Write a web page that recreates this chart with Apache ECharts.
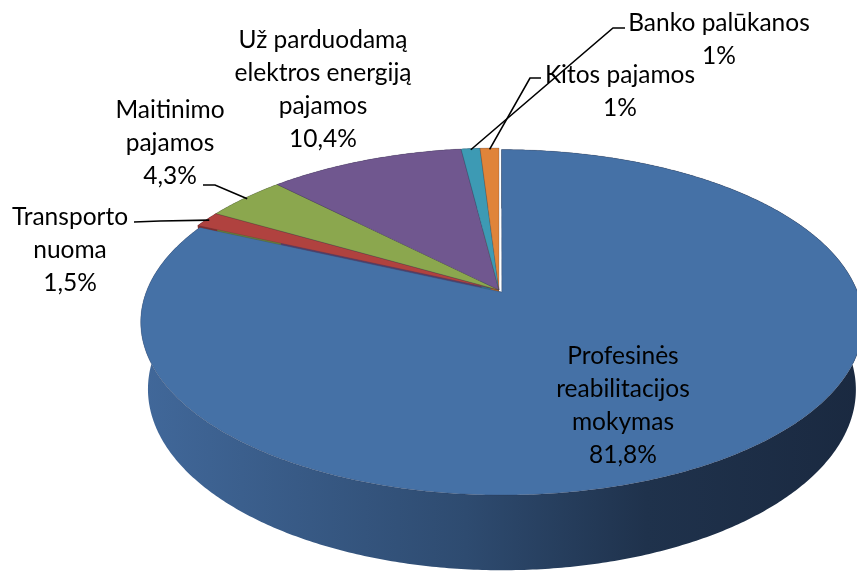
<!DOCTYPE html>
<html>
<head>
<meta charset="utf-8">
<script src="https://cdn.jsdelivr.net/npm/echarts@6/dist/echarts.min.js"></script>
<style>
  html, body { margin: 0; padding: 0; background: #fff; }
  #chart { width: 857px; height: 571px; }
</style>
</head>
<body>
<div id="chart"></div>
<script>
// duomenys
const names = ['Profesinės reabilitacijos mokymas', 'Transporto nuoma', 'Maitinimo pajamos',
  'Už parduodamą elektros energiją pajamos', 'Banko palūkanos', 'Kitos pajamos'];
const values = [81.8, 1.5, 4.3, 10.4, 1, 1];
const pctLabels = ['81,8%', '1,5%', '4,3%', '10,4%', '1%', '1%'];
const labelLines = [
  ['Profesinės', 'reabilitacijos', 'mokymas'],
  ['Transporto', 'nuoma'],
  ['Maitinimo', 'pajamos'],
  ['Už parduodamą', 'elektros energiją', 'pajamos'],
  ['Banko palūkanos'],
  ['Kitos pajamos']
];

// spalvos (viršus / šonas)
const topColors = ['#4571a6', '#b0423f', '#8ba74e', '#70578f', '#3d9ab4', '#e0843a'];
const sideColors = ['#3a5f8c', '#8a302e', '#6b833a', '#56426f', '#2e7a8f', '#b0652a'];

// etikečių išdėstymas: bloko centras ir išnašos linija (nuo teksto iki lūžio)
const labelPos = [[623, 406], [70, 250], [170, 143], [323, 90], [719, 40], [620, 92]];
const leaderPts = [null, [[134, 222], [160, 221]], [[203, 185], [215, 185]], null,
  [[625, 28], [613, 28]], [[541, 78], [530, 78]]];
const explode = [0.015, 0, 0, 0, 0, 0];

// 3D projekcija
const CX = 499, CY = 290, F = 1797, D = 5.063, SA = 0.4698, CA = 0.883, H = 0.2154;
function project(X, Y, Z) {
  const depth = D - Z * CA - Y * SA;
  return [CX + F * X / depth, CY + F * (Z * SA - Y * CA) / depth];
}

const total = values.reduce((a, b) => a + b, 0);
const starts = [];
let acc = 0;
values.forEach(v => { starts.push(acc); acc += v; });

function renderItem(params, api) {
  const i = params.dataIndex;
  const v = api.value(0);
  const a0 = starts[i] / total * Math.PI * 2;
  const a1 = (starts[i] + v) / total * Math.PI * 2;
  const mid = (a0 + a1) / 2;
  const ox = Math.sin(mid) * explode[i], oz = -Math.cos(mid) * explode[i];
  const rim = (a, Y) => project(ox + Math.sin(a), Y, oz - Math.cos(a));
  const steps = Math.max(2, Math.ceil((a1 - a0) / 0.01));
  const topArc = [], botArc = [];
  for (let k = 0; k <= steps; k++) {
    const a = a0 + (a1 - a0) * k / steps;
    topArc.push(rim(a, 0));
    botArc.push(rim(a, -H));
  }
  const c0 = project(ox, 0, oz), c1 = project(ox, -H, oz);
  const children = [];
  // šoninė siena
  children.push({
    type: 'polygon', z2: 1,
    shape: { points: topArc.concat(botArc.slice().reverse()) },
    style: {
      fill: i === 0 ? new echarts.graphic.LinearGradient(0, 0, 1, 0, [
        { offset: 0, color: '#41689a' },
        { offset: 0.45, color: '#2e4b70' },
        { offset: 0.7, color: '#1f324c' },
        { offset: 1, color: '#1a2940' }
      ]) : sideColors[i]
    }
  });
  // radialinės sienos
  [[topArc[0], botArc[0]], [topArc[steps], botArc[steps]]].forEach(e => {
    children.push({
      type: 'polygon', z2: 2,
      shape: { points: [c0, e[0], e[1], c1] },
      style: { fill: sideColors[i] }
    });
  });
  // viršus
  children.push({
    type: 'polygon', z2: 10,
    shape: { points: [c0].concat(topArc) },
    style: { fill: topColors[i], stroke: 'rgba(40,40,60,0.35)', lineWidth: 0.6 }
  });
  // etiketė
  const p = labelPos[i];
  children.push({
    type: 'text', z2: 30,
    style: {
      text: labelLines[i].concat([pctLabels[i]]).join('\n'),
      x: p[0], y: p[1],
      align: 'center', verticalAlign: 'middle',
      font: '24.5px Lato', lineHeight: 33, fill: '#000'
    }
  });
  if (leaderPts[i]) {
    const end = project(ox + Math.sin(mid) * 0.99, 0, oz - Math.cos(mid) * 0.99);
    children.push({
      type: 'polyline', z2: 25,
      shape: { points: leaderPts[i].concat([end]) },
      style: { stroke: '#000', lineWidth: 1.6, fill: null }
    });
  }
  return { type: 'group', children: children };
}

const chart = echarts.init(document.getElementById('chart'));
chart.setOption({
  animation: false,
  series: [{
    type: 'custom',
    coordinateSystem: 'none',
    renderItem: renderItem,
    data: values.map((v, i) => ({ name: names[i], value: [v] }))
  }]
});
</script>
</body>
</html>
